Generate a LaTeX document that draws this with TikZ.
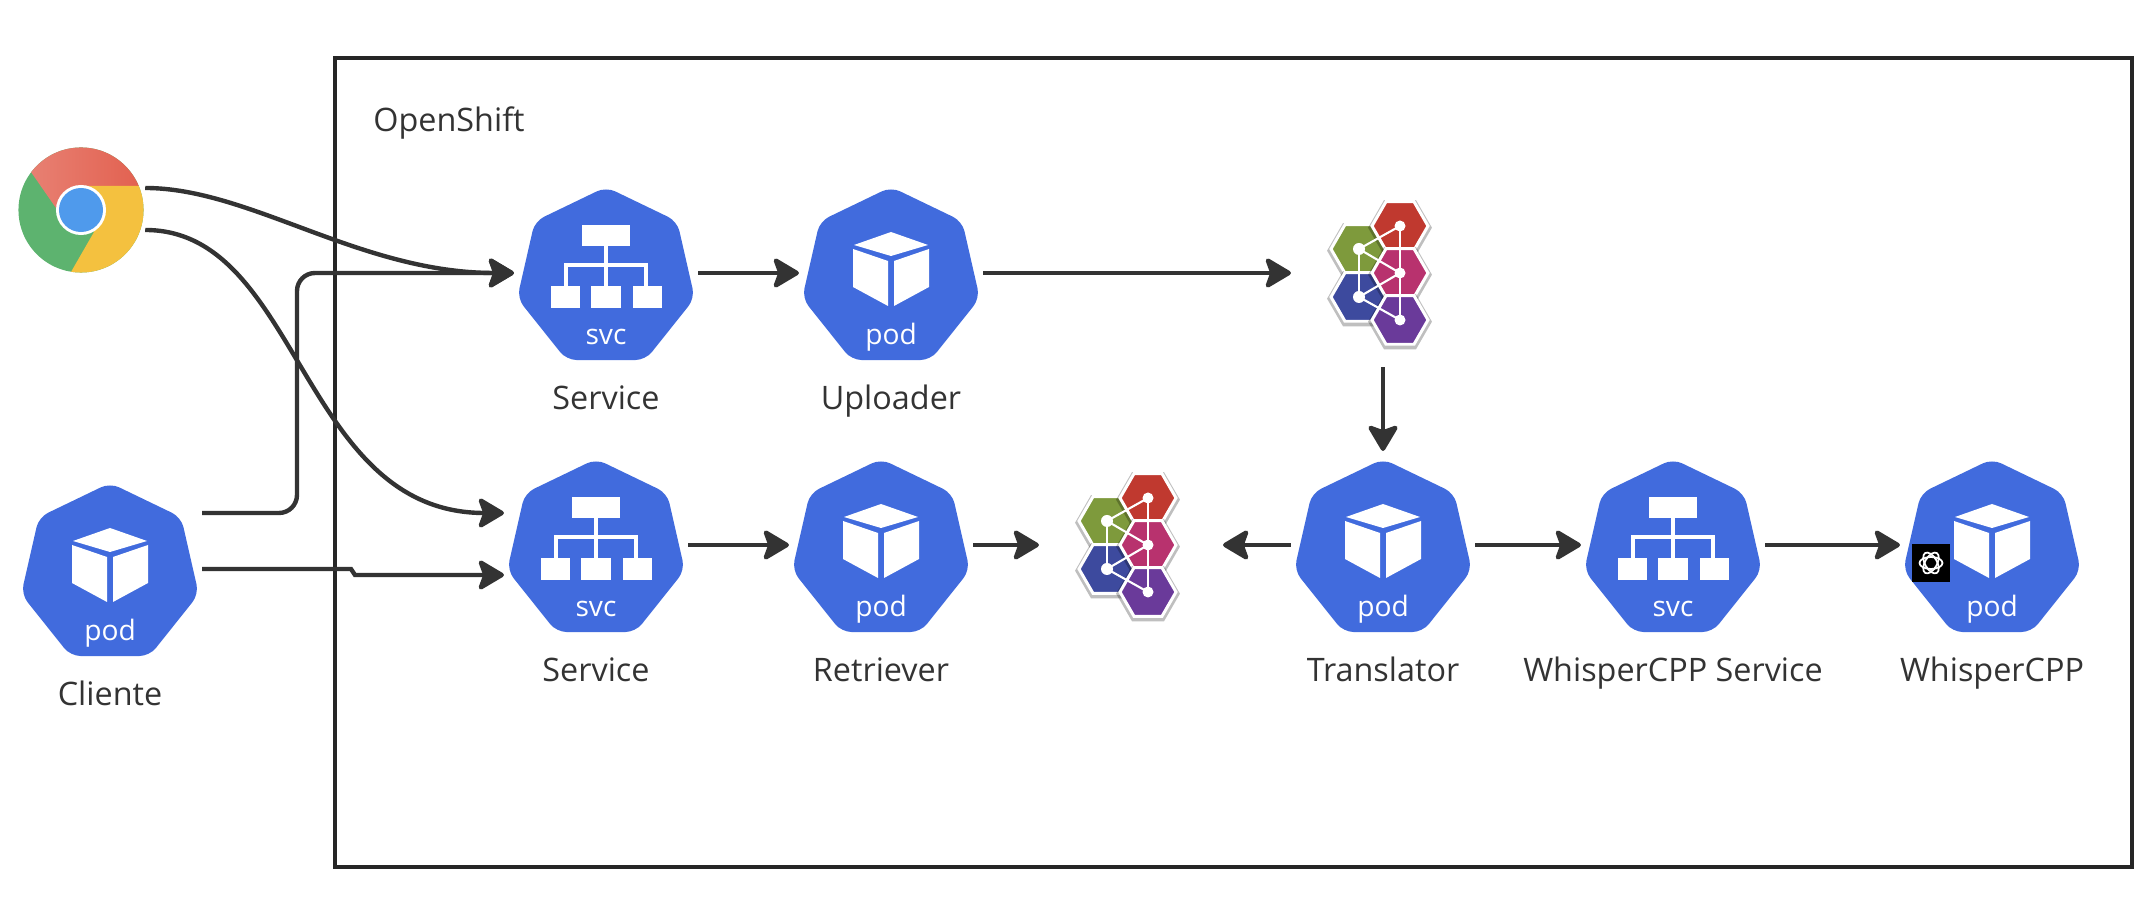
\documentclass[tikz,border=0pt]{standalone}
\usepackage{fontspec}
\setmainfont{Open Sans}
\usetikzlibrary{arrows.meta,shapes.geometric,shadows}

\definecolor{kubeblue}{HTML}{416BDD}
\definecolor{inkgrey}{HTML}{333333}
\definecolor{chromered}{HTML}{E2604F}
\definecolor{chromeyellow}{HTML}{F4C13F}
\definecolor{chromegreen}{HTML}{5DB36F}
\definecolor{chromeblue}{HTML}{4F9AEC}
\definecolor{hexred}{HTML}{C0392F}
\definecolor{hexolive}{HTML}{7E9A3C}
\definecolor{hexblue}{HTML}{3D4A9E}
\definecolor{hexpink}{HTML}{B8326E}
\definecolor{hexpurple}{HTML}{6A3A9A}

\tikzset{
	frame/.style={draw=black!85,line width=1.25pt},
	conn/.style={draw=inkgrey,line width=1.25pt,-{Stealth[length=0.29cm,width=0.34cm,inset=0.06cm,round]}},
	kube/.style={regular polygon,regular polygon sides=7,minimum size=1.82cm,inner sep=0,fill=kubeblue,rounded corners=0.1cm},
	hit/.style={minimum width=1.84cm,minimum height=1.88cm,inner sep=0,outer sep=0},
	lbl/.style={text=inkgrey,anchor=base,font=\fontsize{9.2}{11}\selectfont},
	tag/.style={text=white,anchor=base,font=\fontsize{8}{10}\selectfont},
	box/.style={fill=white},
	hexa/.style={regular polygon,regular polygon sides=6,minimum size=0.56cm,inner sep=0,draw=white,line width=0.85pt,
		drop shadow={shadow xshift=0cm,shadow yshift=-0.015cm,shadow scale=1.14,opacity=0.25,fill=black}},
	hexlink/.style={draw=white,line width=0.6pt},
	pics/podicon/.style={code={
		\node[kube] (-hex) at (0,0) {};
		\node[hit] (-c) at (0,-5) {};
		\fill[box] (0,-46) -- (37,-33) -- (0,-22) -- (-37,-33) -- cycle;
		\fill[box] (-38,-29) -- (-3,-17) -- (-3,28) -- (-38,9) -- cycle;
		\fill[box] (38,-29) -- (3,-17) -- (3,28) -- (38,9) -- cycle;
		\node[tag] (-tag) at (0,67) {pod};
		\node[lbl] (-lbl) at (0,132) {#1};
	}},
	pics/svcicon/.style={code={
		\node[kube] (-hex) at (0,0) {};
		\node[hit] (-c) at (0,-5) {};
		\fill[box] (-24,-53) rectangle (24,-32);
		\fill[box] (-55,8) rectangle (-26,30);
		\fill[box] (-15,8) rectangle (15,30);
		\fill[box] (27,8) rectangle (56,30);
		\draw[white,line width=0.9pt] (0,-32) -- (0,8);
		\draw[white,line width=0.9pt] (-40,8) -- (-40,-13) -- (40,-13) -- (40,8);
		\node[tag] (-tag) at (0,67) {svc};
		\node[lbl] (-lbl) at (0,132) {#1};
	}},
	pics/hexcluster/.style={code={
		\node[hit] (-c) at (0,0) {};
		\node[hexa,fill=hexolive] (-g) at (-24,-24) {};
		\node[hexa,fill=hexblue] (-b) at (-24,24) {};
		\node[hexa,fill=hexred] (-r) at (17,-47) {};
		\node[hexa,fill=hexpink] (-m) at (17,0) {};
		\node[hexa,fill=hexpurple] (-p) at (17,47) {};
		\draw[hexlink] (-g.center) -- (-r.center);
		\draw[hexlink] (-g.center) -- (-m.center);
		\draw[hexlink] (-g.center) -- (-b.center);
		\draw[hexlink] (-b.center) -- (-m.center);
		\draw[hexlink] (-b.center) -- (-p.center);
		\draw[hexlink] (-r.center) -- (-p.center);
		\fill[white] (-g.center) circle (0.06cm);
		\fill[white] (-b.center) circle (0.06cm);
		\fill[white] (-r.center) circle (0.055cm);
		\fill[white] (-m.center) circle (0.055cm);
		\fill[white] (-p.center) circle (0.055cm);
	}},
}

\begin{document}
\begin{tikzpicture}[x=0.01cm,y=-0.01cm]
	\useasboundingbox (0,0) rectangle (2156,922);

	\draw [frame] (335,58) rectangle (2132,867);
	\node [lbl] (openshift) at (449,132) {OpenShift};

	% browser
	\node [circle,fill=chromegreen,minimum size=1.25cm,inner sep=0] (chrome) at (81,210) {};
	\begin{scope}
		\clip (81,210) circle (0.625cm);
		\shade [left color=chromered!80!white,right color=chromered] (31,172) -- (31,100) -- (144,100) -- (144,186) -- (81,186) -- (56,208) -- cycle;
		\fill [chromeyellow] (138,186) -- (200,186) -- (200,300) -- (71,272) -- (94,232) -- (81,209) -- (81,186) -- cycle;
	\end{scope}
	\fill [white] (chrome.center) circle (0.25cm);
	\fill [chromeblue] (chrome.center) circle (0.22cm);

	% icons
	\pic (cli) at (110,574) {podicon=Cliente};
	\pic (svcup) at (606,278) {svcicon=Service};
	\pic (upl) at (891,278) {podicon=Uploader};
	\pic (svclow) at (596,550) {svcicon=Service};
	\pic (ret) at (881,550) {podicon=Retriever};
	\pic (trans) at (1383,550) {podicon=Translator};
	\pic (wsvc) at (1673,550) {svcicon=WhisperCPP Service};
	\pic (wcpp) at (1992,550) {podicon=WhisperCPP};
	\pic (clup) at (1383,273) {hexcluster};
	\pic (cllow) at (1131,545) {hexcluster};

	% openai badge
	\node [fill=black,minimum size=0.38cm,inner sep=0] (oai) at (1931,563) {};
	\draw [white,line width=0.5pt,rotate around={0:(oai.center)}] (oai.center) ellipse (0.115cm and 0.06cm);
	\draw [white,line width=0.5pt,rotate around={60:(oai.center)}] (oai.center) ellipse (0.115cm and 0.06cm);
	\draw [white,line width=0.5pt,rotate around={120:(oai.center)}] (oai.center) ellipse (0.115cm and 0.06cm);

	% connectors
	\draw [conn] ([shift={(1,-22)}]chrome.east) .. controls (250,188) and (360,273) .. (svcup-c.west);
	\draw [conn] ([shift={(1,20)}]chrome.east) .. controls (300,230) and (300,513) .. ([shift={(0,-32)}]svclow-c.west);
	\draw [conn,rounded corners=0.18cm] ([shift={(0,-56)}]cli-c.east) -| (297,273) -- (svcup-c.west);
	\draw [conn] (cli-c.east) -- (351,569) -- (355,575) -- ([shift={(0,30)}]svclow-c.west);

	\draw [conn] (svcup-c) -- (upl-c);
	\draw [conn] (upl-c) -- (clup-c);
	\draw [conn] (clup-c) -- (trans-c);
	\draw [conn] (svclow-c) -- (ret-c);
	\draw [conn] (ret-c) -- (cllow-c);
	\draw [conn] (trans-c) -- (cllow-c);
	\draw [conn] (trans-c) -- (wsvc-c);
	\draw [conn] (wsvc-c) -- (wcpp-c);
\end{tikzpicture}
\end{document}
